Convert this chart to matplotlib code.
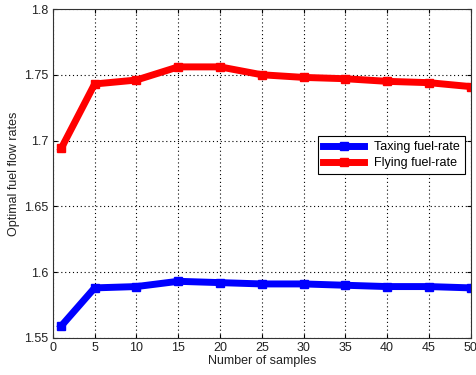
import matplotlib
matplotlib.use("Agg")
import matplotlib.pyplot as plt

samples = [1, 5, 10, 15, 20, 25, 30, 35, 40, 45, 50]
taxing = [1.559, 1.588, 1.589, 1.593, 1.592, 1.591, 1.591, 1.590, 1.589, 1.589, 1.588]
flying = [1.694, 1.743, 1.746, 1.756, 1.756, 1.750, 1.748, 1.747, 1.745, 1.744, 1.741]

plt.rcParams['font.family'] = ['Liberation Sans', 'DejaVu Sans']

fig = plt.figure(figsize=(4.76, 3.75), dpi=100)
ax = fig.add_axes([0.111, 0.099, 0.878, 0.877])

ax.plot(samples, taxing, color='#0000ff', lw=5, marker='s', ms=6, label='Taxing fuel-rate')
ax.plot(samples, flying, color='#ff0000', lw=5, marker='s', ms=6, label='Flying fuel-rate')

ax.set_xlim(0, 50)
ax.set_ylim(1.55, 1.8)
ax.set_xticks(range(0, 51, 5))
ax.set_yticks([1.55, 1.6, 1.65, 1.7, 1.75, 1.8])
ax.set_yticklabels(['1.55', '1.6', '1.65', '1.7', '1.75', '1.8'])
ax.tick_params(labelsize=9, direction='in', length=3, top=True, right=True, pad=3,
               labelcolor='#222222')
ax.grid(True, linestyle=(0, (1, 2.5)), color='black', lw=0.8)
for s in ax.spines.values():
    s.set_color('#333333')

ax.set_xlabel('Number of samples', fontsize=9, labelpad=1, color='#222222')
ax.set_ylabel('Optimal fuel flow rates', fontsize=9, labelpad=3, color='#222222')

leg = ax.legend(loc='lower right', bbox_to_anchor=(0.986, 0.498), fontsize=9,
                fancybox=False, framealpha=1, edgecolor='black', handlelength=3.3,
                borderpad=0.4, labelspacing=0.3, borderaxespad=0)
leg.get_frame().set_linewidth(0.8)

fig.savefig('out.png', dpi=100)
